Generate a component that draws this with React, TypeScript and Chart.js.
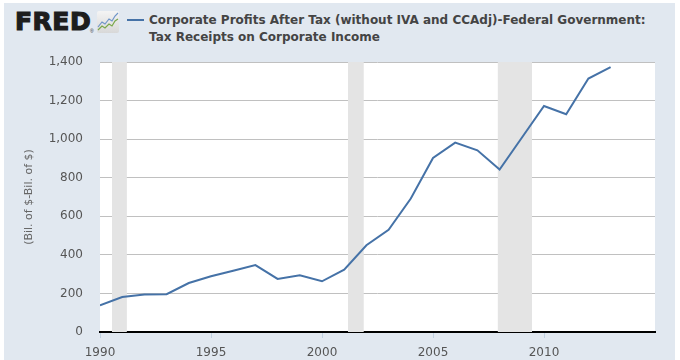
import React, { useEffect, useRef } from "react";
import { Chart, registerables } from "chart.js";

Chart.register(...registerables);

const years = [1990, 1991, 1992, 1993, 1994, 1995, 1996, 1997, 1998, 1999, 2000, 2001, 2002, 2003, 2004, 2005, 2006, 2007, 2008, 2009, 2010, 2011, 2012, 2013];
const receipts = [138, 181, 194, 196, 254, 289, 318, 347, 275, 294, 263, 323, 450, 530, 692, 902, 982, 942, 842, 1007, 1172, 1129, 1314, 1374];
const recessionStarts = [1990.54, 2001.17, 2007.92];
const recessionEnds = [1991.21, 2001.88, 2009.46];
const yTicks = [0, 200, 400, 600, 800, 1000, 1200, 1400];
const xTickYears = [1990, 1995, 2000, 2005, 2010];

const titleLine1 = "Corporate Profits After Tax (without IVA and CCAdj)-Federal Government:";
const titleLine2 = "Tax Receipts on Corporate Income";
const yTitle = "(Bil. of $-Bil. of $)";

const recessionPlugin = {
  id: "recessions",
  beforeDatasetsDraw(chart: any) {
    const { ctx, chartArea, scales } = chart;
    const x = scales.x;
    ctx.save();
    ctx.fillStyle = "#e4e4e4";
    for (let i = 0; i < recessionStarts.length; i++) {
      const x0 = x.getPixelForValue(recessionStarts[i]);
      const x1 = x.getPixelForValue(recessionEnds[i]);
      ctx.fillRect(x0, chartArea.top, x1 - x0, chartArea.bottom - chartArea.top);
    }
    ctx.restore();
  },
};

const whiteBgPlugin = {
  id: "plotBg",
  beforeDraw(chart: any) {
    const { ctx, chartArea } = chart;
    ctx.save();
    ctx.fillStyle = "#ffffff";
    ctx.fillRect(chartArea.left, chartArea.top, chartArea.right - chartArea.left, chartArea.bottom - chartArea.top);
    ctx.restore();
  },
};

export default function App() {
  const ref = useRef<HTMLCanvasElement>(null);
  useEffect(() => {
    document.body.style.margin = "0";
    const chart = new Chart(ref.current as HTMLCanvasElement, {
      type: "line",
      data: {
        datasets: [
          {
            data: years.map((y, i) => ({ x: y, y: receipts[i] })),
            borderColor: "#4572a7",
            borderWidth: 2,
            pointRadius: 0,
            tension: 0,
            fill: false,
          },
        ],
      },
      options: {
        animation: false,
        responsive: false,
        events: [],
        layout: { padding: { top: 62, right: 25, bottom: 0, left: 0 } },
        plugins: { legend: { display: false }, tooltip: { enabled: false } },
        scales: {
          x: {
            type: "linear",
            min: 1990,
            max: 2015,
            afterBuildTicks: (s: any) => {
              s.ticks = xTickYears.map((v) => ({ value: v }));
            },
            afterFit: (s: any) => {
              s.height = 28;
            },
            ticks: {
              callback: (v: any) => String(v),
              color: "#555555",
              font: { family: "DejaVu Sans", size: 12 },
              padding: 8,
              maxRotation: 0,
            },
            grid: {
              drawOnChartArea: false,
              drawTicks: true,
              tickLength: 6,
              tickColor: "#c0d0e0",
            },
            border: { display: true, color: "#000000", width: 2 },
          },
          y: {
            min: 0,
            max: 1400,
            afterBuildTicks: (s: any) => {
              s.ticks = yTicks.map((v) => ({ value: v }));
            },
            afterFit: (s: any) => {
              s.width = 100;
            },
            ticks: {
              callback: (v: any) => Number(v).toLocaleString("en-US"),
              color: "#555555",
              font: { family: "DejaVu Sans", size: 12 },
              padding: 17,
            },
            grid: { color: "#c0c0c0", drawTicks: false, lineWidth: 1 },
            border: { display: false },
            title: {
              display: true,
              text: yTitle,
              color: "#666666",
              font: { family: "DejaVu Sans", size: 11 },
              padding: { top: 23, bottom: 0 },
            },
          },
        },
      },
      plugins: [whiteBgPlugin, recessionPlugin],
    });
    return () => chart.destroy();
  }, []);

  return (
    <div style={{ position: "fixed", left: 0, top: 0, width: 680, height: 360, background: "#ffffff", overflow: "hidden" }}>
      <div style={{ position: "absolute", left: 4, top: 3, width: 671, height: 357, background: "#e1e8f0" }} />
      <div
        style={{
          position: "absolute",
          left: 15,
          top: 7,
          fontFamily: "DejaVu Sans",
          fontWeight: "bold",
          fontSize: 25,
          letterSpacing: 0.5,
          color: "#1d1d1d",
          lineHeight: "30px",
          WebkitTextStroke: "1.2px #1d1d1d",
        }}
      >
        FRED
      </div>
      <div style={{ position: "absolute", left: 90, top: 28, fontSize: 5, fontFamily: "Liberation Sans", color: "#333" }}>®</div>
      <svg style={{ position: "absolute", left: 97, top: 11 }} width={22} height={22} viewBox="0 0 22 22">
        <defs>
          <linearGradient id="g" x1="0" y1="0" x2="0" y2="1">
            <stop offset="0" stopColor="#f4f4f4" />
            <stop offset="1" stopColor="#d8d8d8" />
          </linearGradient>
        </defs>
        <rect x="0" y="0" width="22" height="22" rx="2" fill="url(#g)" />
        <polyline points="1,16 5,11 8,13 12,8 15,10 18,5 21,2" fill="none" stroke="#6f95c8" strokeWidth="1.2" />
        <polyline points="1,19 5,15 8,17 12,13 15,15 18,10 21,8" fill="none" stroke="#7aa84a" strokeWidth="1.2" />
      </svg>
      <div style={{ position: "absolute", left: 127, top: 19, width: 17, height: 2, background: "#4572a7" }} />
      <div
        style={{
          position: "absolute",
          left: 149,
          top: 12,
          fontFamily: "DejaVu Sans",
          fontWeight: "bold",
          fontSize: 12,
          lineHeight: "17px",
          color: "#444444",
          whiteSpace: "nowrap",
        }}
      >
        <div>{titleLine1}</div>
        <div>{titleLine2}</div>
      </div>
      <canvas ref={ref} width={680} height={360} style={{ position: "absolute", left: 0, top: 0 }} />
    </div>
  );
}
